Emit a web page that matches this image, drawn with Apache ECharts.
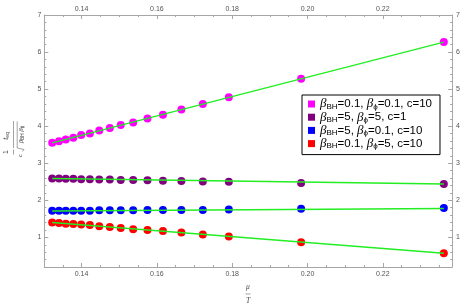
<!DOCTYPE html>
<html><head><meta charset="utf-8">
<script src="https://cdn.jsdelivr.net/npm/echarts@6/dist/echarts.min.js"></script>
<style>html,body{margin:0;padding:0;background:#fff}#c{width:463px;height:306px}</style>
</head><body><div id="c"></div>
<script>
const xVals = [0.1322,0.1340,0.1358,0.1378,0.1399,0.1422,0.1447,0.1475,0.1504,0.1537,0.1575,0.1616,0.1665,0.1722,0.1791,0.1983,0.2362];
const magentaVals = [3.55,3.59,3.64,3.69,3.76,3.80,3.88,3.95,4.03,4.10,4.21,4.31,4.45,4.60,4.78,5.28,6.27];
const purpleVals = [2.59,2.59,2.58,2.58,2.57,2.57,2.56,2.56,2.55,2.55,2.54,2.53,2.52,2.51,2.50,2.47,2.44];
const blueVals = [1.72,1.72,1.72,1.72,1.72,1.72,1.73,1.73,1.73,1.73,1.74,1.74,1.74,1.74,1.75,1.77,1.79];
const redVals = [1.40,1.39,1.37,1.36,1.35,1.33,1.30,1.28,1.25,1.22,1.20,1.17,1.13,1.08,1.02,0.87,0.57];
const fitX = [0.1322, 0.2362];
const magentaFit = [3.55, 6.27];
const purpleFit = [2.59, 2.44];
const blueFit = [1.71, 1.78];
const redFit = [1.40, 0.57];
const seriesNames = ['m','p','b','r'];
const legendLabels = {
  m: ['BH','=0.1, ','ϕ','=0.1, c=10'],
  p: ['BH','=5, ','ϕ','=5, c=1'],
  b: ['BH','=5, ','ϕ','=0.1, c=10'],
  r: ['BH','=0.1, ','ϕ','=5, c=10']
};
const colors = {m:'#ff00ff', p:'#800080', b:'#0000ff', r:'#ff0000'};
const xMin = 0.1301, xMax = 0.2384, yMin = 0.2, yMax = 7;

const pairs = (xs, ys) => xs.map((x, i) => [x, ys[i]]);
const axisGray = '#a6a6a6';
const labelColor = '#555';
const labelFont = 'Liberation Sans';

function xAxisCfg(pos) {
  return {
    type: 'value', position: pos, min: xMin, max: xMax,
    axisLine: {show: true, onZero: false, lineStyle: {color: axisGray, width: 1}},
    axisTick: {show: true, inside: true, length: 4, lineStyle: {color: axisGray}},
    minorTick: {show: true, splitNumber: 4, length: 2, lineStyle: {color: axisGray}},
    splitLine: {show: false},
    axisLabel: {show: true, showMinLabel: false, showMaxLabel: false, margin: pos === 'top' ? 2 : 4,
      fontSize: 7, color: labelColor, fontFamily: labelFont,
      formatter: v => v.toFixed(2)}
  };
}
function yAxisCfg(pos) {
  return {
    type: 'value', position: pos, min: yMin, max: yMax,
    axisLine: {show: true, onZero: false, lineStyle: {color: axisGray, width: 1}},
    axisTick: {show: true, inside: true, length: 4, lineStyle: {color: axisGray}},
    minorTick: {show: true, splitNumber: 5, length: 2, lineStyle: {color: axisGray}},
    splitLine: {show: false},
    axisLabel: {show: true, showMinLabel: false, margin: pos === 'right' ? 4 : 3,
      fontSize: 7, color: labelColor, fontFamily: labelFont,
      formatter: v => (Math.abs(v - Math.round(v)) < 1e-6 ? String(Math.round(v)) : '')}
  };
}

const scatterData = {m: magentaVals, p: purpleVals, b: blueVals, r: redVals};
const fitData = {m: magentaFit, p: purpleFit, b: blueFit, r: redFit};
const series = [];
seriesNames.forEach(k => {
  series.push({
    name: k, type: 'scatter', data: pairs(xVals, scatterData[k]),
    symbol: 'circle', symbolSize: 8,
    itemStyle: {color: colors[k], opacity: 1, borderWidth: 0, borderColor: colors[k], shadowBlur: 0},
    z: 2, silent: true, animation: false
  });
});
seriesNames.forEach(k => {
  series.push({
    name: k + '_fit', type: 'line', data: pairs(fitX, fitData[k]),
    showSymbol: false, symbol: 'none', lineStyle: {color: '#22ee22', width: 1.4},
    z: 3, silent: true, animation: false
  });
});

const rich = {
  b: {fontFamily: 'Liberation Serif', fontStyle: 'italic', fontSize: 13, color: '#000', lineHeight: 15},
  s: {fontFamily: labelFont, fontSize: 8, color: '#000', lineHeight: 15, padding: [5, 0, 0, 0]},
  t: {fontFamily: labelFont, fontSize: 11.5, color: '#000', lineHeight: 15}
};

const T = (x, y, text, extra) => ({
  type: 'text', x, y, rotation: Math.PI / 2,
  style: Object.assign({text, fontSize: 7, fill: '#444', fontFamily: labelFont, align: 'center', verticalAlign: 'middle'}, (extra || {}))
});
const L = (x1, y1, x2, y2) => ({type: 'line', shape: {x1, y1, x2, y2}, style: {stroke: '#666', lineWidth: 0.6}});

const chart = echarts.init(document.getElementById('c'), null, {renderer: 'canvas'});
chart.setOption({
  animation: false,
  backgroundColor: '#fff',
  grid: {left: 44.3, right: 10.3, top: 15, bottom: 39, containLabel: false},
  xAxis: [xAxisCfg('bottom'), xAxisCfg('top')],
  yAxis: [yAxisCfg('left'), yAxisCfg('right')],
  legend: {
    data: seriesNames, orient: 'vertical', left: 302, top: 95,
    icon: 'rect', itemWidth: 7, itemHeight: 7, itemGap: 0.2,
    padding: [2.5, 8, 4.5, 6], borderColor: '#000', borderWidth: 1, backgroundColor: '#fff',
    selectedMode: false,
    itemStyle: {borderWidth: 0},
    formatter: n => {
      const a = legendLabels[n];
      return '{b|β}{s|' + a[0] + '}{t|' + a[1] + '}{b|β}{s|' + a[2] + '}{t|' + a[3] + '}';
    },
    textStyle: {rich}
  },
  series,
  graphic: [
    {type: 'text', x: 248, y: 287, style: {text: 'μ', fontSize: 7.5, fontStyle: 'italic', fill: '#444', fontFamily: 'Liberation Serif', align: 'center', verticalAlign: 'middle'}},
    L(245.5, 294, 250.5, 294),
    {type: 'text', x: 248, y: 301, style: {text: 'T', fontSize: 7.5, fontStyle: 'italic', fill: '#444', fontFamily: 'Liberation Serif', align: 'center', verticalAlign: 'middle'}},
    T(6.5, 152, '1'),
    L(13.5, 149.5, 13.5, 154.5),
    T(20.5, 155.5, 'c', {fontStyle: 'italic', fontFamily: 'Liberation Serif'}),
    T(6.5, 136, '{i|t}{s|eq}', {rich: {i: {fontStyle: 'italic', fontFamily: 'Liberation Serif', fontSize: 7.5, fill: '#444'}, s: {fontSize: 5, fill: '#444', padding: [3, 0, 0, 0]}}}),
    L(13.5, 121, 13.5, 148),
    T(21, 134.5, '{i|β}{s|BH} {i|β}{s|ϕ}', {rich: {i: {fontStyle: 'italic', fontFamily: 'Liberation Serif', fontSize: 7, fill: '#444'}, s: {fontSize: 4.5, fill: '#444', padding: [3, 0, 0, 0]}}}),
    L(17.2, 121.5, 17.2, 148),
    {type: 'polyline', shape: {points: [[17.2, 148], [24, 149.5], [22.5, 151.5]]}, style: {stroke: '#666', lineWidth: 0.6, fill: null}}
  ]
});
</script></body></html>
